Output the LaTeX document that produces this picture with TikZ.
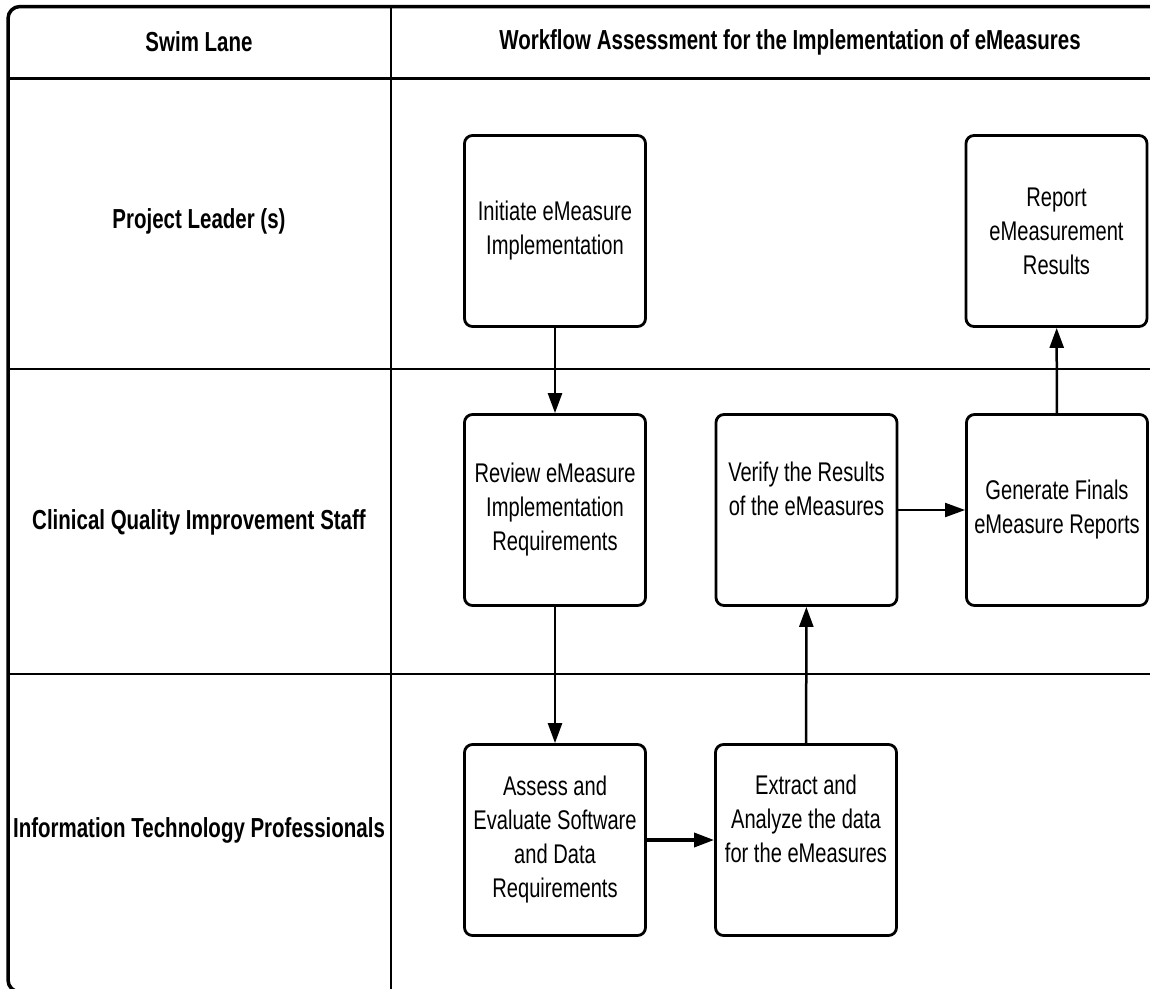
\documentclass[tikz,border=0pt]{standalone}
\usepackage{fontspec}
\setmainfont{Liberation Sans}[FakeStretch=0.745]
\usetikzlibrary{arrows.meta}

\tikzset{
  frame/.style={line width=3.5pt, rounded corners=12pt},
  divider/.style={line width=2.3pt},
  stepbox/.style={draw, line width=2.8pt, rounded corners=8pt,
    minimum width=181pt, minimum height=191pt, inner sep=0pt,
    align=center, font=\fontsize{27}{34}\selectfont},
  lanelabel/.style={align=center, font=\bfseries\fontsize{27.5}{34}\selectfont},
  flow/.style={line width=2.5pt, -{Triangle[length=20pt,width=14pt]}},
}

\begin{document}
\begin{tikzpicture}[x=1pt, y=-1pt]
  \useasboundingbox (0,0) rectangle (1150,988);
  \clip (0,0) rectangle (1150,988);

  % swim-lane table
  \draw[frame] (8,6.5) rectangle (1220,992);
  \draw[divider] (8,78.5) -- (1220,78.5);
  \draw[divider] (8,369) -- (1220,369);
  \draw[divider] (8,674) -- (1220,674);
  \draw[divider] (391,6.5) -- (391,992);

  % header and lane names
  \node[lanelabel] (hlane)  at (199,42)  {Swim Lane};
  \node[lanelabel] (htitle) at (790,42)  {Workflow Assessment for the Implementation of eMeasures};
  \node[lanelabel] (lane1)  at (199,221) {Project Leader (s)};
  \node[lanelabel] (lane2)  at (199,522) {Clinical Quality Improvement Staff};
  \node[lanelabel] (lane3)  at (199,830) {Information Technology Professionals};

  % process steps
  \node[stepbox] (init)     at (555,231)    {Initiate eMeasure\\Implementation};
  \node[stepbox] (report)   at (1056.5,231) {Report\\eMeasurement\\Results};
  \node[stepbox] (review)   at (555,510)    {Review eMeasure\\Implementation\\Requirements};
  \node[stepbox] (verify)   at (806.5,510)  {Verify the Results\\of the eMeasures\\[8pt]};
  \node[stepbox] (generate) at (1057,510)   {Generate Finals\\eMeasure Reports};
  \node[stepbox] (assess)   at (555,840)    {Assess and\\Evaluate Software\\and Data\\Requirements};
  \node[stepbox] (extract)  at (806,840)    {Extract and\\Analyze the data\\for the eMeasures\\[8pt]};

  % flow
  \draw[flow] (init) -- (review);
  \draw[flow] (review) -- (assess);
  \draw[flow, line width=3.5pt] (assess) -- (extract);
  \draw[flow] (extract) -- (verify);
  \draw[flow, line width=2pt] (verify) -- (generate);
  \draw[flow] (generate) -- (report);
\end{tikzpicture}
\end{document}
